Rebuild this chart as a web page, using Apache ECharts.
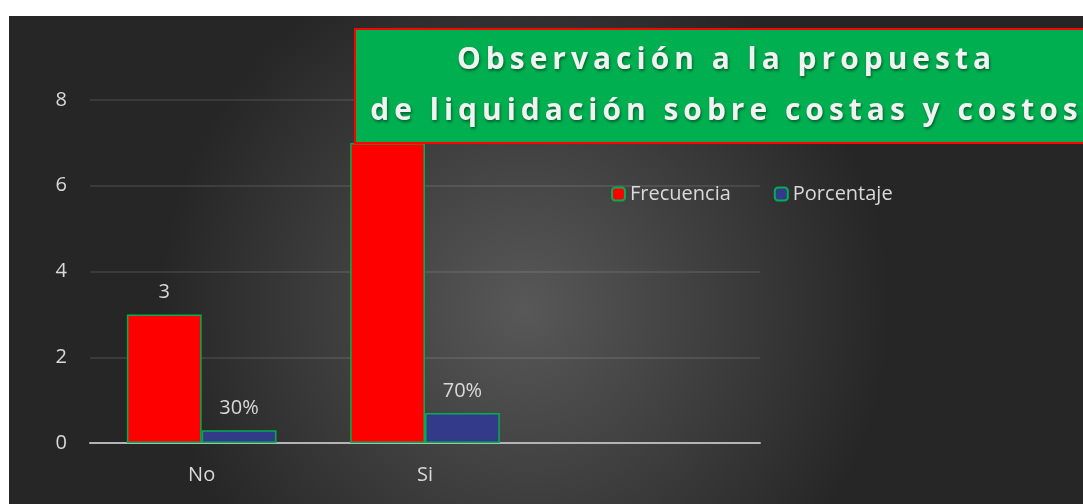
<!DOCTYPE html>
<html lang="es">
  <head>
    <meta charset="UTF-8" />
    <title>Observación a la propuesta</title>
    <style>
      * {
        padding: 0;
        margin: 0;
      }
      body {
        background: #fff;
      }
      #main {
        position: absolute;
        left: 9px;
        top: 16px;
        width: 1074px;
        height: 488px;
      }
    </style>
    <script src="https://cdn.jsdelivr.net/npm/echarts@6/dist/echarts.min.js"></script>
  </head>
  <body>
    <div id="main"></div>
    <script type="text/javascript">
      var categories = ['No', 'Si', ''];
      var frecuencia = [3, 7, null];
      var porcentaje = [0.3, 0.7, null];
      var yTicks = [0, 2, 4, 6, 8];
      var titleLines = ['Observación a la propuesta', 'de liquidación sobre costas y costos'];

      var txt = '#d9d9d9';
      var font = '"Open Sans", sans-serif';

      // the title in the picture is letter-spaced, canvas text has no such option
      function spaced(s) {
        return s.split('').join('\u2009');
      }

      var myChart = echarts.init(document.getElementById('main'));

      var option = {
        backgroundColor: new echarts.graphic.RadialGradient(0.48, 0.6, 0.75, [
          {offset: 0, color: '#585858'},
          {offset: 1, color: '#262626'}
        ]),
        textStyle: {fontFamily: font},
        legend: {
          data: ['Frecuencia', 'Porcentaje'],
          left: 597,
          top: 163,
          itemWidth: 13,
          itemHeight: 13,
          itemGap: 43,
          textStyle: {color: txt, fontSize: 20}
        },
        grid: {left: 81, right: 323, top: 84, bottom: 61},
        xAxis: {
          type: 'category',
          data: categories,
          axisLine: {lineStyle: {color: '#b4b4b4', width: 2}},
          axisTick: {length: 6, lineStyle: {color: '#b4b4b4', width: 2}},
          axisLabel: {color: txt, fontSize: 20, margin: 22}
        },
        yAxis: {
          type: 'value',
          min: yTicks[0],
          max: yTicks[yTicks.length - 1],
          interval: 2,
          axisLabel: {color: txt, fontSize: 20, margin: 23},
          splitLine: {lineStyle: {color: 'rgba(255,255,255,0.13)', width: 1.5}}
        },
        series: [
          {
            name: 'Frecuencia',
            type: 'bar',
            data: frecuencia,
            barGap: '0%',
            barCategoryGap: '33%',
            itemStyle: {color: '#ff0000', borderColor: '#00b050', borderWidth: 1.5},
            label: {show: true, position: 'top', distance: 12, color: txt, fontSize: 20}
          },
          {
            name: 'Porcentaje',
            type: 'bar',
            data: porcentaje,
            itemStyle: {color: '#333a8a', borderColor: '#00b050', borderWidth: 1.5},
            label: {
              show: true,
              position: 'top',
              distance: 12,
              color: txt,
              fontSize: 20,
              formatter: function (p) {
                return Math.round(p.value * 100) + '%';
              }
            }
          }
        ],
        graphic: [
          {
            type: 'group',
            left: 345,
            top: 12,
            zlevel: 1,
            z: 100,
            children: [
              {
                type: 'rect',
                z: 100,
                shape: {x: 0, y: 0, width: 740, height: 114},
                style: {fill: '#00b050', stroke: '#ff0000', lineWidth: 2}
              },
              {
                type: 'text',
                z: 101,
                x: 369,
                y: 57,
                style: {
                  text: titleLines.map(spaced).join('\n'),
                  fill: '#f2f2f2',
                  font: 'bold 30px "Open Sans", sans-serif',
                  align: 'center',
                  verticalAlign: 'middle',
                  lineHeight: 51,
                  textShadowColor: 'rgba(0,0,0,0.45)',
                  textShadowBlur: 3,
                  textShadowOffsetX: 1,
                  textShadowOffsetY: 2
                }
              }
            ]
          }
        ]
      };

      myChart.setOption(option, true);
    </script>
  </body>
</html>
